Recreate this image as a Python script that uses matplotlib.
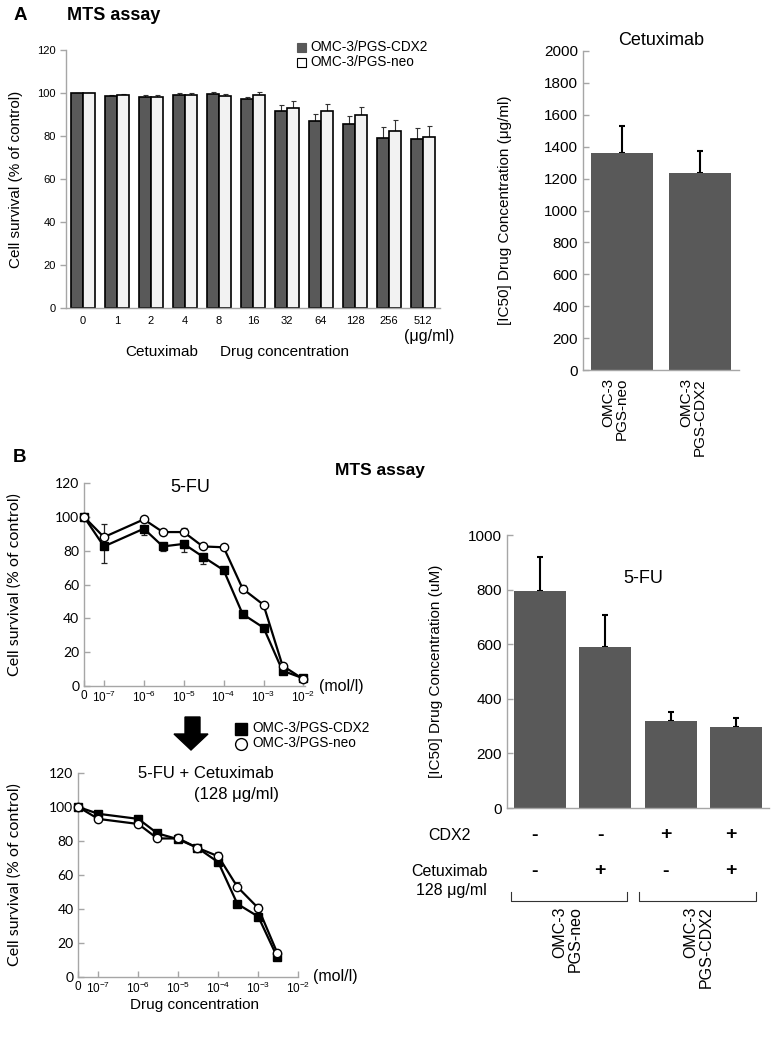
import numpy as np
import matplotlib
matplotlib.use("Agg")
import matplotlib.pyplot as plt
from matplotlib.ticker import NullLocator
from matplotlib.patches import Polygon
import matplotlib.transforms as mtransforms

plt.rcParams['font.family'] = ['Liberation Sans', 'DejaVu Sans']
plt.rcParams['mathtext.fontset'] = 'custom'
plt.rcParams['mathtext.rm'] = 'Liberation Sans'

# ---------------- data ----------------
# Panel A left: Cetuximab MTS assay
cetux_doses = ["0", "1", "2", "4", "8", "16", "32", "64", "128", "256", "512"]
cetux_cdx2 = [100, 98.5, 98, 99, 99.5, 97.3, 91.5, 87, 85.8, 79.2, 78.5]
cetux_cdx2_err = [0, 0.4, 1.0, 0.8, 0.8, 1.0, 3.0, 3.2, 3.3, 5.0, 5.1]
cetux_neo = [100, 99.2, 98.3, 99, 98.7, 99.3, 93.2, 91.8, 89.8, 82.3, 79.5]
cetux_neo_err = [0, 0.2, 1.0, 0.8, 1.0, 1.2, 3.2, 3.3, 3.5, 5.0, 5.0]

# Panel A right: IC50 Cetuximab
ic50_cetux_labels = ["OMC-3\nPGS-neo", "OMC-3\nPGS-CDX2"]
ic50_cetux = [1360, 1235]
ic50_cetux_err = [170, 140]

# Panel B: 5-FU dose response (mol/l); 0 = control
fu_conc = [0, 1e-7, 1e-6, 3e-6, 1e-5, 3e-5, 1e-4, 3e-4, 1e-3, 3e-3, 1e-2]
fu_cdx2 = [100, 82.5, 93, 82.5, 84, 76.5, 68.5, 42.5, 34.5, 9, 4.5]
fu_cdx2_err = [0, 9.5, 3.5, 2.5, 5, 4.5, 1.5, 1, 1, 0.5, 0.5]
fu_neo = [100, 88, 98.5, 91, 91, 82.5, 82, 57.5, 48, 12, 4]
fu_neo_err = [0, 7.5, 0.5, 1.5, 2.5, 0.5, 0.5, 2, 0.5, 0.5, 0.5]

# 5-FU + Cetuximab (128 ug/ml)
comb_conc = [0, 1e-7, 1e-6, 3e-6, 1e-5, 3e-5, 1e-4, 3e-4, 1e-3, 3e-3]
comb_cdx2 = [100, 96, 93, 84.5, 81, 76, 67.5, 43, 35.5, 11.5]
comb_cdx2_err = [0, 0.5, 0.5, 1, 1, 0.5, 1, 2, 1, 0.5]
comb_neo = [100, 93, 90, 81.5, 81.5, 76, 71, 53, 40.5, 14]
comb_neo_err = [0, 0.5, 0.5, 0.5, 2.5, 0.5, 2.5, 3, 2.5, 1]

log_ticks = [1e-7, 1e-6, 1e-5, 1e-4, 1e-3, 1e-2]
log_tick_labels = ["$10^{-7}$", "$10^{-6}$", "$10^{-5}$", "$10^{-4}$", "$10^{-3}$", "$10^{-2}$"]

# Panel B right: IC50 5-FU
ic50_fu = [795, 590, 319, 297]
ic50_fu_err = [127, 117, 34, 33]
cdx2_signs = ["-", "-", "+", "+"]
cetux_signs = ["-", "+", "-", "+"]
group_labels = ["OMC-3\nPGS-neo", "OMC-3\nPGS-CDX2"]

# ---------------- layout helpers ----------------
W, H = 779, 1051
fig = plt.figure(figsize=(W / 100, H / 100), dpi=100)


def fx(x):
    return x / W


def fy(y):
    return 1 - y / H


def add_ax(x0, y0, x1, y1):
    return fig.add_axes([fx(x0), fy(y1), (x1 - x0) / W, (y1 - y0) / H])


DARK = '#595959'
LIGHT = '#f2f2f2'
SPINE = '#a6a6a6'


def style(ax, direction='in'):
    for s in ['top', 'right']:
        ax.spines[s].set_visible(False)
    for s in ['left', 'bottom']:
        ax.spines[s].set_color(SPINE)
        ax.spines[s].set_linewidth(1.0)
    ax.tick_params(direction=direction, color=SPINE, length=4, width=1)


# ---------------- Panel A left ----------------
axA = add_ax(66, 50, 440, 308)
style(axA, 'out')
x = np.arange(len(cetux_doses))
w = 0.34
axA.bar(x - w / 2, cetux_cdx2, w, color=DARK, edgecolor='black', linewidth=1.2, zorder=2)
axA.bar(x + w / 2, cetux_neo, w, color=LIGHT, edgecolor='black', linewidth=1.2, zorder=2)
axA.errorbar(x - w / 2, cetux_cdx2, yerr=[np.zeros(len(x)), cetux_cdx2_err], fmt='none',
             ecolor='#333333', elinewidth=0.8, capsize=1.8, capthick=0.8, zorder=1)
axA.errorbar(x + w / 2, cetux_neo, yerr=[np.zeros(len(x)), cetux_neo_err], fmt='none',
             ecolor='#333333', elinewidth=0.8, capsize=1.8, capthick=0.8, zorder=1)
axA.set_xlim(-0.5, len(x) - 0.5)
axA.set_ylim(0, 120)
axA.set_yticks(range(0, 121, 20))
axA.set_xticks(x)
axA.set_xticklabels(cetux_doses)
axA.tick_params(axis='x', length=0, labelsize=8, pad=6)
axA.tick_params(axis='y', labelsize=8)
axA.set_ylabel("Cell survival (% of control)", fontsize=11)
axA.yaxis.set_label_coords((23 - 66) / 374, 0.5)

fig.text(fx(20), fy(16), "A", fontsize=13.5, fontweight='bold', ha='center', va='center')
fig.text(fx(67), fy(16), "MTS assay", fontsize=13, fontweight='bold', ha='left', va='center')

# legend A
fig.patches.append(plt.Rectangle((fx(297), fy(52)), 9 / W, 9 / H, transform=fig.transFigure,
                                 facecolor=DARK, edgecolor=DARK, linewidth=0.8))
fig.patches.append(plt.Rectangle((fx(297), fy(67)), 9 / W, 9 / H, transform=fig.transFigure,
                                 facecolor='white', edgecolor='black', linewidth=0.8))
fig.text(fx(310), fy(47), "OMC-3/PGS-CDX2", fontsize=9.8, ha='left', va='center')
fig.text(fx(310), fy(62), "OMC-3/PGS-neo", fontsize=9.8, ha='left', va='center')

fig.text(fx(125), fy(352), "Cetuximab", fontsize=11, ha='left', va='center')
fig.text(fx(220), fy(352), "Drug concentration", fontsize=11, ha='left', va='center')
fig.text(fx(429), fy(336), "(μg/ml)", fontsize=11.5, ha='center', va='center')

# ---------------- Panel A right ----------------
axAR = add_ax(583, 51, 739, 370)
style(axAR, 'in')
xr = np.arange(len(ic50_cetux))
axAR.bar(xr, ic50_cetux, 0.79, color=DARK, zorder=2)
axAR.errorbar(xr, ic50_cetux, yerr=[np.zeros(len(xr)), ic50_cetux_err], fmt='none',
              ecolor='black', elinewidth=1.5, capsize=2, capthick=1.5, zorder=1)
axAR.set_xlim(-0.5, 1.5)
axAR.set_ylim(0, 2000)
axAR.set_yticks(range(0, 2001, 200))
axAR.set_xticks([])
axAR.tick_params(axis='y', labelsize=11)
axAR.set_ylabel("[IC50] Drug Concentration (μg/ml)", fontsize=11)
axAR.yaxis.set_label_coords((512 - 583) / 156, 0.5)
axAR.set_title("Cetuximab", fontsize=13, pad=4)
trAR = mtransforms.blended_transform_factory(axAR.transData, axAR.transAxes)
for i, lab in enumerate(ic50_cetux_labels):
    axAR.text(xr[i] - 0.09, -0.025, lab, rotation=90, ha='center', va='top', ma='right',
              fontsize=11, transform=trAR, linespacing=1.0)

# ---------------- Panel B top-left: 5-FU ----------------
CTRL = 10 ** -7.5


def pos(c):
    return [CTRL if v == 0 else v for v in c]


def line_panel(ax, conc, cdx2, cdx2_err, neo, neo_err, xmax):
    style(ax, 'in')
    xs = pos(conc)
    n = len(xs)
    ax.errorbar(xs, cdx2, yerr=[cdx2_err, np.zeros(n)], fmt='none', ecolor='#222222',
                elinewidth=0.9, capsize=2, capthick=0.9, zorder=2, clip_on=False)
    ax.errorbar(xs, neo, yerr=[np.zeros(n), neo_err], fmt='none', ecolor='#222222',
                elinewidth=0.9, capsize=2, capthick=0.9, zorder=2, clip_on=False)
    ax.plot(xs, cdx2, color='black', lw=1.6, marker='s', ms=5.5, mfc='black', mec='black',
            zorder=3, clip_on=False)
    ax.plot(xs, neo, color='black', lw=1.6, marker='o', ms=6, mfc='white', mec='black',
            mew=1.0, zorder=4, clip_on=False)
    ax.set_xscale('log')
    ax.set_xlim(CTRL, xmax)
    ax.set_ylim(0, 120)
    ax.set_yticks(range(0, 121, 20))
    ax.set_xticks([CTRL] + log_ticks)
    ax.set_xticklabels(["0"] + log_tick_labels)
    ax.xaxis.set_minor_locator(NullLocator())
    ax.tick_params(axis='x', labelsize=8.5, pad=3)
    ax.tick_params(axis='y', labelsize=10)
    for t in ax.get_yticklabels():
        t.set_fontfamily(['Lato', 'DejaVu Sans'])
    ax.set_ylabel("Cell survival (% of control)", fontsize=11.5, fontfamily=['Lato', 'DejaVu Sans'])


axB1 = add_ax(84, 483, 305, 686)
line_panel(axB1, fu_conc, fu_cdx2, fu_cdx2_err, fu_neo, fu_neo_err, 10 ** -1.96)
axB1.yaxis.set_label_coords((22 - 84) / 221, 0.5)
fig.text(fx(190), fy(488), "5-FU", fontsize=13, ha='center', va='center')
fig.text(fx(319), fy(687), "(mol/l)", fontsize=11.5, ha='left', va='center')

fig.text(fx(20), fy(458), "B", fontsize=13.5, fontweight='bold', ha='center', va='center')
fig.text(fx(335), fy(471), "MTS assay", fontsize=12.5, fontweight='bold', ha='left', va='center')

# arrow
arrow_pts = [(185, 717), (200, 717), (200, 734), (208, 734), (191, 750), (174, 734), (185, 734)]
fig.patches.append(Polygon([(fx(a), fy(b)) for a, b in arrow_pts], closed=True,
                           transform=fig.transFigure, facecolor='black', edgecolor='black'))

# legend B
fig.lines.append(plt.Line2D([fx(241)], [fy(728.5)], transform=fig.transFigure, marker='s',
                            ms=8, mfc='black', mec='black', linestyle='none'))
fig.lines.append(plt.Line2D([fx(241)], [fy(743.5)], transform=fig.transFigure, marker='o',
                            ms=8.5, mfc='white', mec='black', mew=1.0, linestyle='none'))
fig.text(fx(252), fy(728), "OMC-3/PGS-CDX2", fontsize=9.8, ha='left', va='center')
fig.text(fx(252), fy(743), "OMC-3/PGS-neo", fontsize=9.8, ha='left', va='center')

# ---------------- Panel B bottom-left: 5-FU + Cetuximab ----------------
axB2 = add_ax(78.3, 773, 298.3, 977)
line_panel(axB2, comb_conc, comb_cdx2, comb_cdx2_err, comb_neo, comb_neo_err, 1e-2)
axB2.yaxis.set_label_coords((22 - 78.3) / 220, 0.5)
fig.text(fx(206), fy(774), "5-FU + Cetuximab", fontsize=12, ha='center', va='center')
fig.text(fx(237), fy(795), "(128 μg/ml)", fontsize=12, ha='center', va='center')
fig.text(fx(313), fy(976), "(mol/l)", fontsize=11.5, ha='left', va='center')
fig.text(fx(195), fy(1005), "Drug concentration", fontsize=11, ha='center', va='center')

# ---------------- Panel B right ----------------
axBR = add_ax(507, 535.3, 769, 808)
style(axBR, 'in')
xb = np.arange(len(ic50_fu))
axBR.bar(xb, ic50_fu, 0.79, color=DARK, zorder=2)
axBR.errorbar(xb, ic50_fu, yerr=[np.zeros(len(xb)), ic50_fu_err], fmt='none',
              ecolor='black', elinewidth=1.5, capsize=2, capthick=1.5, zorder=1)
axBR.set_xlim(-0.5, len(xb) - 0.5)
axBR.set_ylim(0, 1000)
axBR.set_yticks(range(0, 1001, 200))
axBR.set_xticks([])
axBR.tick_params(axis='y', labelsize=11)
axBR.set_ylabel("[IC50] Drug Concentration (uM)", fontsize=11)
axBR.yaxis.set_label_coords((443 - 507) / 262, 0.5)
axBR.text(0.52, 0.84, "5-FU", transform=axBR.transAxes, fontsize=13, ha='center', va='center')

trBR = mtransforms.blended_transform_factory(axBR.transData, axBR.transAxes)
hB = 272.7
for i in range(len(xb)):
    axBR.text(xb[i] - 0.08, (808 - 835) / hB, cdx2_signs[i], transform=trBR, ha='center',
              va='center', fontsize=14, fontweight='bold')
    axBR.text(xb[i] - 0.08, (808 - 871) / hB, cetux_signs[i], transform=trBR, ha='center',
              va='center', fontsize=14, fontweight='bold')
fig.text(fx(449), fy(835), "CDX2", fontsize=11.5, ha='center', va='center')
fig.text(fx(449), fy(871), "Cetuximab", fontsize=11.5, ha='center', va='center')
fig.text(fx(451), fy(890), "128 μg/ml", fontsize=11.5, ha='center', va='center')

# brackets
yt = (808 - 891.7) / hB
yb = (808 - 901) / hB
for (a, b) in [(-0.44, 1.33), (1.52, 3.30)]:
    axBR.plot([a, a, b, b], [yt, yb, yb, yt], color='#333333', lw=0.8, transform=trBR,
              clip_on=False)
for i, lab in enumerate(group_labels):
    cx = 0.5 + 2 * i - 0.08
    axBR.text(cx, (808 - 906) / hB, lab, rotation=90, ha='center', va='top', ma='right',
              fontsize=11.5, transform=trBR, linespacing=1.0)

fig.savefig("out.png", dpi=100)
